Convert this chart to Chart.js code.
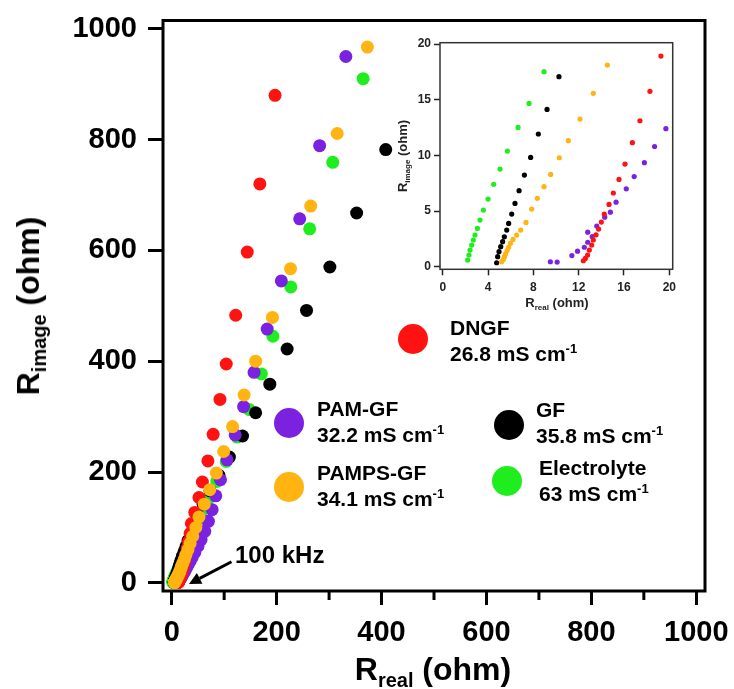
<!DOCTYPE html>
<html>
<head>
<meta charset="utf-8">
<script src="https://cdn.jsdelivr.net/npm/chart.js@4.4.0/dist/chart.umd.min.js"></script>
<style>
body { margin: 0; background: #fff; }
#wrap { position: relative; width: 734px; height: 689px; font-family: "Liberation Sans", Arial, sans-serif; font-weight: bold; color: #000; }
canvas { position: absolute; }
.t { position: absolute; white-space: nowrap; line-height: 1; }
.lg { position: absolute; white-space: nowrap; font-size: 21px; line-height: 25.5px; }
.dot { position: absolute; width: 30px; height: 30px; border-radius: 50%; }
</style>
</head>
<body>
<div id="wrap">
  <canvas id="main" width="734" height="689" style="left:0;top:0"></canvas>
  <canvas id="inset" width="290" height="285" style="left:395px;top:30px"></canvas>

  <div class="t" style="left:433px;top:653px;font-size:32px;transform:translateX(-50%)">R<span style="font-size:20px;vertical-align:-7px;line-height:0">real</span> (ohm)</div>
  <div class="t" style="left:28px;top:306px;font-size:32px;transform:translate(-50%,-50%) rotate(-90deg)">R<span style="font-size:20px;vertical-align:-7px;line-height:0">image</span> (ohm)</div>

  <div class="t" style="left:557px;top:296px;font-size:13px;transform:translateX(-50%);color:#222">R<span style="font-size:8px;vertical-align:-3px;line-height:0">real</span> (ohm)</div>
  <div class="t" style="left:402px;top:156px;font-size:13px;transform:translate(-50%,-50%) rotate(-90deg);color:#222">R<span style="font-size:8px;vertical-align:-3px;line-height:0">image</span> (ohm)</div>

  <div class="t" style="left:235px;top:543px;font-size:24px">100 kHz</div>
</div>

<script>
// ---- data (ohm) ----
const seriesNames = ["DNGF", "PAM-GF", "PAMPS-GF", "GF", "Electrolyte"];
const conductivity = ["26.8", "32.2", "34.1", "35.8", "63"];
const seriesColors = ["#ff1212", "#7b22e0", "#ffb412", "#000000", "#1eee1e"];

// high-frequency part (the inset range)
const dngfLow = [[12.41,0.54],[12.59,0.75],[12.79,1.05],[12.94,1.5],[13.15,1.95],[13.29,2.4],[13.53,2.87],[13.76,3.38],[14.0,4.01],[14.26,4.73],[14.68,5.6],[15.06,6.62],[15.56,7.84],[16.09,9.22],[16.74,11.14],[17.41,13.11],[18.29,15.75],[19.26,18.92]];
const pamLow = [[9.5,0.45],[10.1,0.42],[11.4,1.0],[11.9,1.4],[12.5,1.75],[12.8,2.2],[12.8,3.1],[13.2,2.7],[13.6,3.65],[14.3,4.45],[14.8,4.9],[15.3,5.8],[16.2,7.0],[16.9,8.1],[17.8,9.35],[18.7,10.8],[19.7,12.4]];
const pampsLow = [[5.2,0.45],[5.35,0.66],[5.45,0.9],[5.55,1.15],[5.68,1.45],[5.82,1.75],[5.98,2.1],[6.2,2.45],[6.53,2.84],[6.88,3.29],[7.35,3.98],[7.85,5.18],[8.35,6.14],[8.94,7.19],[9.53,8.29],[10.29,9.79],[11.09,11.32],[12.12,13.26],[13.29,15.57],[14.53,18.11]];
const gfLow = [[4.76,0.36],[4.85,0.9],[4.97,1.35],[5.12,1.8],[5.29,2.25],[5.44,2.69],[5.65,3.29],[5.82,3.89],[6.09,4.73],[6.38,5.69],[6.74,6.83],[7.21,8.23],[7.76,9.82],[8.44,11.92],[9.21,14.13],[10.26,17.07]];
const elecLow = [[2.2,0.6],[2.32,1.05],[2.41,1.5],[2.56,1.95],[2.7,2.4],[2.85,2.84],[3.06,3.44],[3.29,4.19],[3.59,5.09],[4.0,6.08],[4.5,7.4],[5.06,8.77],[5.71,10.39],[6.65,12.51],[7.62,14.67],[8.94,17.52]];

// rest of the spectrum
const dngfHigh = [[20.5,24],[22,29],[23.5,35],[25,42],[27,51],[29.5,62],[32,74],[35,89],[37.6,107],[44,127],[52,154],[58.5,182],[69,220],[79,268],[92,331],[104,395],[122,483],[144,597],[168,720],[197,880]];
const pamHigh = [[22,16.3],[24,19.5],[26,23],[28.5,27.5],[31.5,33],[35,39],[39,46],[44,55],[50,66],[56,78],[63,93],[70,111],[77,132],[84,157],[93,186],[105.5,222],[121,267],[137,318],[157,380],[182,458],[209,545],[244,657],[282,789],[332,950]];
const pampsHigh = [[15.7,21],[17,25],[19,30],[21,35],[24,42],[27,50],[31,60],[35,71],[40,84],[46,100],[52,119],[62,142],[72.5,168],[85,198],[99,237],[116,282],[138,339],[160,400],[192,479],[226.5,567],[265,680],[315.5,811],[373,967]];
const gfHigh = [[11.2,19],[12.2,22],[13.2,25.5],[14.5,30],[16,35],[18,41],[20.5,48],[23.5,56],[27,65],[31,76],[36,89],[42,104],[50,121],[60,142],[73,166],[90,194],[110,227],[135,265],[160,307],[187,358.6],[220,422],[257,491.6],[301.5,570],[352.5,667.5],[408,782]];
const elecHigh = [[10.5,21],[12.5,25],[14.5,30],[17,36],[20.5,43],[24,51],[28,61],[33,73],[39,88],[47,106],[56,127],[70,152],[86,183],[104,219],[124.7,263],[147.5,313],[171,377],[193,445],[227,534],[263,639],[307,759],[365,910]];

const lowSets = [dngfLow, pamLow, pampsLow, gfLow, elecLow];
const highSets = [dngfHigh, pamHigh, pampsHigh, gfHigh, elecHigh];
const drawOrder = [1, 2, 0, 3, 4]; // orange on top, green at the back

const mainTicks = [0, 200, 400, 600, 800, 1000];
const mainMinorX = [100, 300, 500, 700, 900];
const insetXTicks = [0, 4, 8, 12, 16, 20];
const insetYTicks = [0, 5, 10, 15, 20];
const arrowFrom = [114, 38];
const arrowTo = [33, -2];

// ---- layout bits ----
const dotCenters = [[413,339],[289,423],[289,487],[509,425],[507,481]];
const textPos = [[450,315],[317,396],[317,460],[536,397],[539,455]];

const FONT = '"Liberation Sans", Arial, sans-serif';
const toXY = p => ({ x: p[0], y: p[1] });

const wrap = document.getElementById("wrap");
seriesNames.forEach(function (name, i) {
  const d = document.createElement("div");
  d.className = "dot";
  d.style.left = (dotCenters[i][0] - 15) + "px";
  d.style.top = (dotCenters[i][1] - 15) + "px";
  d.style.background = seriesColors[i];
  wrap.appendChild(d);
  const t = document.createElement("div");
  t.className = "lg";
  t.style.left = textPos[i][0] + "px";
  t.style.top = textPos[i][1] + "px";
  t.innerHTML = name + "<br>" + conductivity[i] +
    ' mS cm<span style="font-size:13px;vertical-align:8px;line-height:0">-1</span>';
  wrap.appendChild(t);
});

function frame(color, width) {
  return {
    id: "frame",
    afterDraw(chart) {
      const a = chart.chartArea, c = chart.ctx;
      c.save();
      c.strokeStyle = color;
      c.lineWidth = width;
      c.strokeRect(a.left, a.top, a.right - a.left, a.bottom - a.top);
      c.restore();
    }
  };
}

const extras = {
  id: "extras",
  afterDraw(chart) {
    const c = chart.ctx, xs = chart.scales.x, ys = chart.scales.y;
    c.save();
    c.strokeStyle = "#000";
    c.lineWidth = 3;
    // minor ticks
    mainMinorX.forEach(function (v) {
      const px = xs.getPixelForValue(v);
      c.beginPath();
      c.moveTo(px, chart.chartArea.bottom);
      c.lineTo(px, chart.chartArea.bottom + 9);
      c.stroke();
    });
    // 100 kHz arrow
    const x0 = xs.getPixelForValue(arrowFrom[0]), y0 = ys.getPixelForValue(arrowFrom[1]);
    const x1 = xs.getPixelForValue(arrowTo[0]), y1 = ys.getPixelForValue(arrowTo[1]);
    const ang = Math.atan2(y1 - y0, x1 - x0);
    const hx = x1 - 12 * Math.cos(ang), hy = y1 - 12 * Math.sin(ang);
    c.beginPath();
    c.moveTo(x0, y0);
    c.lineTo(hx, hy);
    c.stroke();
    c.fillStyle = "#000";
    c.beginPath();
    c.moveTo(x1, y1);
    c.lineTo(hx + 6 * Math.sin(ang), hy - 6 * Math.cos(ang));
    c.lineTo(hx - 6 * Math.sin(ang), hy + 6 * Math.cos(ang));
    c.closePath();
    c.fill();
    c.restore();
  }
};

function axis(min, max, ticks, fontSize, tickLen, tickW, pad, color, size, horizontal) {
  return {
    type: "linear",
    min: min,
    max: max,
    afterBuildTicks: s => { s.ticks = ticks.map(v => ({ value: v })); },
    afterFit: s => {
      if (horizontal) s.height = size; else s.width = size;
      s.paddingTop = 0; s.paddingBottom = 0; s.paddingLeft = 0; s.paddingRight = 0;
    },
    ticks: { autoSkip: false, maxRotation: 0, color: color, padding: pad,
             callback: v => String(v),
             font: { family: FONT, size: fontSize, weight: "bold" } },
    grid: { drawOnChartArea: false, drawTicks: true, tickLength: tickLen, tickWidth: tickW, tickColor: color },
    border: { display: false }
  };
}

new Chart(document.getElementById("main"), {
  type: "scatter",
  data: {
    datasets: seriesNames.map((n, i) => ({
      label: n,
      data: lowSets[i].concat(highSets[i]).map(toXY),
      backgroundColor: seriesColors[i],
      borderWidth: 0,
      pointRadius: 6.5,
      order: drawOrder[i]
    }))
  },
  options: {
    responsive: false,
    animation: false,
    layout: { padding: { top: 20.5, right: 29, left: 0, bottom: 0 } },
    plugins: { legend: { display: false }, tooltip: { enabled: false } },
    scales: {
      x: axis(-16.6, 1016.6, mainTicks, 29, 14, 3, 11, "#000", 98, true),
      y: axis(-14.8, 1015, mainTicks, 29, 15, 3, 11, "#000", 163, false)
    }
  },
  plugins: [frame("#000", 3), extras]
});

new Chart(document.getElementById("inset"), {
  type: "scatter",
  data: {
    datasets: seriesNames.map((n, i) => ({
      label: n,
      data: lowSets[i].map(toXY),
      backgroundColor: seriesColors[i],
      borderWidth: 0,
      pointRadius: 2.6,
      order: drawOrder[i]
    }))
  },
  options: {
    responsive: false,
    animation: false,
    layout: { padding: { top: 12.7, right: 12.3, left: 0, bottom: 0 } },
    plugins: { legend: { display: false }, tooltip: { enabled: false } },
    scales: {
      x: axis(-0.24, 20.3, insetXTicks, 12, 6, 1.5, 5, "#222", 45.7, true),
      y: axis(-0.23, 20.12, insetYTicks, 12, 6, 1.5, 3, "#222", 45, false)
    }
  },
  plugins: [frame("#333", 1.5)]
});
</script>
</body>
</html>
